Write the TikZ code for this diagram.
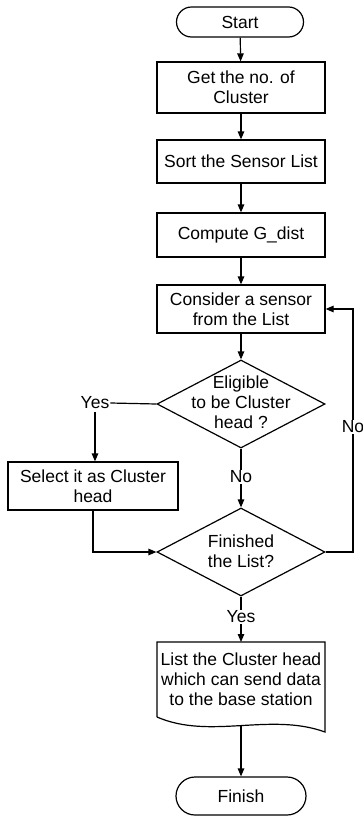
\documentclass[tikz,border=0pt]{standalone}
\usepackage{fontspec}
\setmainfont{Liberation Sans}
\usetikzlibrary{shapes.geometric,shapes.misc,arrows.meta}
\begin{document}
\begin{tikzpicture}[x=1pt,y=-1pt,
  every node/.style={font=\fontsize{17.5}{20}\selectfont},
  line/.style={line width=1.2pt,draw=black},
  arr/.style={line, -{Triangle[length=8pt,width=6.5pt]}},
  procbox/.style={draw,line width=1.2pt,rectangle,minimum width=168pt,inner sep=0pt,align=center},
  term/.style={draw,line width=1.2pt,rounded rectangle,inner sep=0pt,align=center},
  decis/.style={draw,line width=1.2pt,diamond,minimum width=168pt,minimum height=88pt,inner sep=0pt},
  txt/.style={align=center,inner sep=0pt},
  lbl/.style={fill=white,inner sep=1pt}]
\useasboundingbox (0,0) rectangle (363,817);
\node[term,minimum width=127pt,minimum height=30pt] (start) at (240,22) {Start};
\node[procbox,minimum height=51pt] (get) at (241,87.5) {Get the no. of\\Cluster};
\node[procbox,minimum height=43pt] (sort) at (241,161.5) {Sort the Sensor List};
\node[procbox,minimum height=44pt] (comp) at (241,235) {Compute G\_dist};
\node[procbox,minimum height=48pt] (cons) at (241,309) {Consider a sensor\\from the List};
\node[decis] (d1) at (241,404) {};
\node[txt] (d1t) at (241,402) {Eligible\\to be Cluster\\head ?};
\node[procbox,minimum width=170pt,minimum height=48pt] (sel) at (93,486) {Select it as Cluster\\head};
\node[decis] (d2) at (241,552) {};
\node[txt] (d2t) at (241,551) {Finished\\the List?};
\node[lbl] (yes1) at (95,403) {Yes};
\node[lbl] (no1) at (241,477) {No};
\node[lbl] (no2) at (353,427) {No};
\node[lbl] (yes2) at (241,617) {Yes};
% document shape
\coordinate (doctl) at (157,642);
\coordinate (doctr) at (325,642);
\coordinate (docbl) at (157,717);
\coordinate (docbr) at (325,732);
\coordinate (docb) at (241,726);
\draw[line] (docbl) -- (doctl) -- (doctr) -- (docbr)
  .. controls (270,712) and (210,740) .. (docbl);
\node[txt] (doct) at (241,679) {List the Cluster head\\which can send data\\to the base station};
\node[term,minimum width=130pt,minimum height=38pt] (fin) at (241,796) {Finish};
% connectors
\draw[arr] (start) -- (get);
\draw[arr] (get) -- (sort);
\draw[arr] (sort) -- (comp);
\draw[arr] (comp) -- (cons);
\draw[arr] (cons) -- (d1);
\draw[line] (d1.west) -- (yes1.east);
\draw[arr] (yes1.south) ++(0,2) -- (sel.north -| yes1.south);
\draw[line] (d1.south) -- (no1.north);
\draw[arr] (no1.south) -- (d2.north);
\draw[arr] (sel.south) |- (d2.west);
\draw[line] (d2.east) -| (no2.south);
\draw[arr] (no2.north) |- (cons.east);
\draw[line] (d2.south) -- (yes2.north);
\draw[arr] (yes2.south) -- (doctl -| yes2.south);
\draw[arr] (docb) -- (fin.north);
\end{tikzpicture}
\end{document}
